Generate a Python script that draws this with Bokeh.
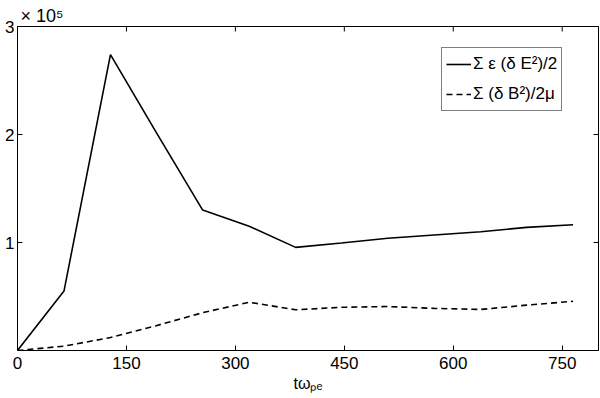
import math
from bokeh.plotting import figure
from bokeh.models import (Range1d, LinearAxis, FixedTicker, Legend, LegendItem, Title)
from bokeh.embed import file_html
from bokeh.resources import INLINE

# Data (time in units of 1/omega_pe, energies in units of 1e5)
t = [0, 64, 128, 191, 255, 319, 383, 446, 510, 574, 638, 701, 765]
e_field = [0.0, 0.55, 2.74, 2.02, 1.30, 1.15, 0.955, 0.995, 1.04, 1.07, 1.10, 1.14, 1.165]
b_field = [0.0, 0.04, 0.12, 0.23, 0.35, 0.447, 0.377, 0.40, 0.407, 0.39, 0.38, 0.42, 0.456]
scale = 1e5
e_vals = [v * scale for v in e_field]
b_vals = [v * scale for v in b_field]

x_min, x_max = 0, 800
y_min, y_max = 0, 3e5
x_ticks = [0, 150, 300, 450, 600, 750]
y_ticks = [1e5, 2e5, 3e5]
y_tick_labels = ["1", "2", "3"]
legend_labels = ["Σ ε (δ E²)/2", "Σ (δ B²)/2μ"]
x_label = "tωₚₑ"
multiplier = "× 10⁵"

FONT = "Liberation Sans"

p = figure(width=600, height=398, output_backend="svg", toolbar_location=None,
           x_range=Range1d(x_min, x_max), y_range=Range1d(y_min, y_max),
           min_border_left=17, min_border_right=2, min_border_top=26,
           min_border_bottom=48, x_axis_location=None, y_axis_location=None)
p.grid.visible = False
p.outline_line_color = "black"
p.outline_line_width = 1
p.background_fill_color = "white"
p.border_fill_color = "white"

def style_axis(ax):
    ax.axis_line_color = "black"
    ax.major_tick_line_color = "black"
    ax.major_tick_in = 5
    ax.major_tick_out = 0
    ax.minor_tick_line_color = None
    ax.major_label_text_font = FONT
    ax.major_label_text_color = "black"
    ax.major_label_text_font_size = "17px"

xb = LinearAxis(ticker=FixedTicker(ticks=x_ticks))
style_axis(xb)
xb.major_label_standoff = 6
xb.axis_label = x_label
xb.axis_label_text_font = FONT
xb.axis_label_text_font_size = "16px"
xb.axis_label_text_font_style = "normal"
xb.axis_label_text_color = "black"
xb.axis_label_standoff = 3
p.add_layout(xb, "below")

yl = LinearAxis(ticker=FixedTicker(ticks=y_ticks),
                major_label_overrides={v: s for v, s in zip(y_ticks, y_tick_labels)})
style_axis(yl)
yl.major_label_standoff = 3
p.add_layout(yl, "left")

# Inward ticks on the top and right edges of the box (clipped to the frame)
p.scatter(x=x_ticks, y=[y_max] * len(x_ticks), marker="dash", size=10,
          angle=math.pi / 2, line_color="black", line_width=1)
p.scatter(x=[x_max] * len(y_ticks), y=y_ticks, marker="dash", size=10,
          line_color="black", line_width=1)

r1 = p.line(t, e_vals, line_color="black", line_width=1.6)
r2 = p.line(t, b_vals, line_color="black", line_width=1.6, line_dash="6 4")

legend = Legend(items=[LegendItem(label=legend_labels[0], renderers=[r1]),
                       LegendItem(label=legend_labels[1], renderers=[r2])],
                location=(424, 239), orientation="vertical")
legend.label_text_font = FONT
legend.label_text_font_size = "17px"
legend.label_text_color = "black"
legend.glyph_width = 25
legend.glyph_height = 24
legend.label_height = 24
legend.spacing = 6
legend.padding = 4
legend.margin = 0
legend.label_standoff = 2
legend.border_line_color = "black"
legend.border_line_width = 1
legend.background_fill_color = "white"
legend.background_fill_alpha = 1
p.add_layout(legend, "center")

# Multiplier above the top-left corner
title = Title(text=multiplier, align="left", offset=3, text_font=FONT,
              text_font_size="18px", text_font_style="normal",
              text_color="black", standoff=2)
p.add_layout(title, "above")

open("out.html", "w").write(file_html(p, INLINE))
